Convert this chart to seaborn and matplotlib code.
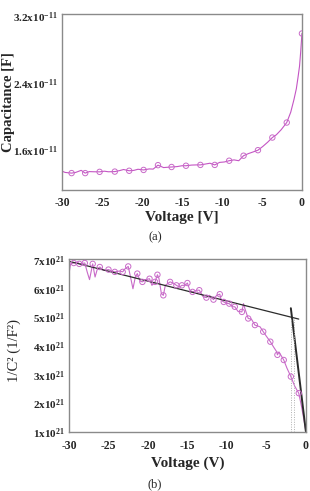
import numpy as np
import pandas as pd
import matplotlib
matplotlib.use("Agg")
import matplotlib.pyplot as plt
import seaborn as sns

# ==========================================
# DATA
# ==========================================

# (a) C-V curve, capacitance in units of 1e-11 F
cv_volt = [-30.0, -29.6, -28.8, -28.3, -27.6, -27.1, -26.6, -26.0, -25.3, -24.7,
           -24.2, -23.4, -22.8, -22.3, -21.6, -21.0, -20.5, -19.8, -19.1, -18.6,
           -18.0, -17.3, -16.8, -16.3, -15.6, -15.0, -14.5, -13.8, -13.2, -12.7,
           -12.1, -11.5, -10.9, -10.3, -9.7, -9.1, -8.5, -7.9, -7.3, -6.7,
           -6.1, -5.5, -4.9, -4.3, -3.7, -3.2, -2.6, -1.9, -1.4, -1.0,
           -0.7, -0.5, -0.3, -0.15, 0.0]
cv_cap = [1.345, 1.330, 1.322, 1.330, 1.355, 1.322, 1.340, 1.338, 1.337, 1.345,
          1.338, 1.340, 1.352, 1.365, 1.350, 1.355, 1.368, 1.360, 1.372, 1.370,
          1.417, 1.388, 1.392, 1.395, 1.400, 1.410, 1.410, 1.418, 1.420, 1.420,
          1.430, 1.440, 1.420, 1.450, 1.455, 1.470, 1.480, 1.470, 1.530, 1.555,
          1.575, 1.596, 1.640, 1.690, 1.747, 1.780, 1.840, 1.926, 2.050, 2.200,
          2.330, 2.460, 2.600, 2.780, 2.990]
cv_mark_volt = [-28.8, -27.1, -25.3, -23.4, -21.6, -19.8, -18.0, -16.3, -14.5,
                -12.7, -10.9, -9.1, -7.3, -5.5, -3.7, -1.9, 0.0]
cv_mark_cap = [1.322, 1.322, 1.337, 1.340, 1.350, 1.360, 1.417, 1.395, 1.410,
               1.420, 1.420, 1.470, 1.530, 1.596, 1.747, 1.926, 2.990]

# (b) Mott-Schottky plot, 1/C^2 in units of 1e21 F^-2
ms_volt = [-30.0, -29.8, -29.4, -28.9, -28.7, -28.0, -27.7, -27.4, -27.0, -26.7,
           -26.4, -26.1, -25.6, -25.0, -24.6, -24.2, -23.6, -23.2, -22.9, -22.5,
           -22.3, -21.9, -21.6, -21.35, -21.0, -20.7, -20.3, -19.8, -19.5, -19.1,
           -18.8, -18.6, -18.3, -18.05, -17.8, -17.2, -16.8, -16.4, -16.0, -15.7,
           -15.3, -15.0, -14.7, -14.35, -13.8, -13.5, -13.0, -12.6, -12.2, -11.7,
           -11.3, -10.9, -10.7, -10.4, -10.0, -9.7, -9.3, -9.0, -8.6, -8.1,
           -7.9, -7.7, -7.3, -6.9, -6.45, -5.8, -5.4, -5.0, -4.5, -4.1,
           -3.7, -3.6, -3.4, -2.8, -2.4, -1.9, -1.4, -0.9, -0.55, -0.25, 0.0]
ms_inv = [6.54, 6.88, 6.91, 6.94, 6.88, 6.91, 6.60, 6.33, 6.88, 6.42,
          6.71, 6.77, 6.65, 6.68, 6.63, 6.60, 6.63, 6.60, 6.71, 6.79,
          6.54, 6.01, 6.42, 6.54, 6.28, 6.25, 6.33, 6.36, 6.13, 6.25,
          6.50, 6.36, 5.84, 5.78, 6.13, 6.25, 6.21, 6.13, 6.07, 6.13,
          6.13, 6.21, 5.96, 5.90, 5.96, 5.96, 5.73, 5.70, 5.78, 5.63,
          5.78, 5.82, 5.60, 5.55, 5.50, 5.49, 5.38, 5.38, 5.22, 5.20,
          5.49, 5.30, 4.97, 4.95, 4.74, 4.68, 4.51, 4.35, 4.16, 3.98,
          3.81, 3.70, 3.80, 3.52, 3.24, 2.94, 2.60, 2.36, 1.90, 1.44, 1.03]
ms_mark_volt = [-29.4, -28.7, -28.0, -27.0, -26.1, -25.0, -24.2, -23.2, -22.5,
                -21.35, -20.7, -19.8, -19.1, -18.8, -18.05, -17.2, -16.4, -15.7,
                -15.0, -14.35, -13.5, -12.6, -11.7, -10.9, -10.4, -9.7, -9.0,
                -8.1, -7.3, -6.45, -5.4, -4.5, -3.6, -2.8, -1.9, -0.9]
ms_mark_inv = [6.91, 6.88, 6.91, 6.88, 6.77, 6.68, 6.60, 6.60, 6.79,
               6.54, 6.25, 6.36, 6.25, 6.50, 5.78, 6.25, 6.13, 6.13,
               6.21, 5.90, 5.96, 5.70, 5.63, 5.82, 5.55, 5.49, 5.38,
               5.20, 4.97, 4.74, 4.51, 4.16, 3.70, 3.52, 2.94, 2.36]

# linear fits drawn on (b)
fit_flat_volt = [-30.0, -0.9]
fit_flat_inv = [6.97, 4.95]
fit_steep_volt = [-1.9, 0.0]
fit_steep_inv = [5.33, 1.03]
guide_volt = [-1.85, -1.55]
guide_top = [4.97, 4.95]

cap_ticks = [1.6, 2.4, 3.2]
cap_ticklabels = ["1.6x10$^{-11}$", "2.4x10$^{-11}$", "3.2x10$^{-11}$"]
inv_ticks = [1, 2, 3, 4, 5, 6, 7]
inv_ticklabels = ["%dx10$^{21}$" % t for t in inv_ticks]
volt_ticks = [-30, -25, -20, -15, -10, -5, 0]

# ==========================================
# STYLE
# ==========================================
sns.set_style("white")
plt.rcParams["font.family"] = ["Liberation Serif", "DejaVu Serif"]
plt.rcParams["mathtext.fontset"] = "custom"
plt.rcParams["mathtext.rm"] = "Liberation Serif:bold"
plt.rcParams["mathtext.it"] = "Liberation Serif:bold"
plt.rcParams["mathtext.bf"] = "Liberation Serif:bold"

LINE_C = "#c455c4"
MARK_C = "#c86ac8"
FIT_C = "#2b2b2b"
SPINE_C = "#8a8a8a"

fig = plt.figure(figsize=(3.1, 4.91), dpi=100)
ax1 = fig.add_axes([0.2, 0.613, 0.774, 0.358])
ax2 = fig.add_axes([0.2226, 0.120, 0.764, 0.3525])


def style_axes(ax, xpad):
    for s in ax.spines.values():
        s.set_color(SPINE_C)
        s.set_linewidth(1.0)
    ax.tick_params(axis="y", length=0, pad=3, labelsize=8)
    ax.tick_params(axis="x", length=0, pad=xpad, labelsize=8.5)
    for lab in ax.get_xticklabels() + ax.get_yticklabels():
        lab.set_fontweight("bold")


# ---- (a) capacitance vs voltage ----
df_cv = pd.DataFrame({"V": cv_volt, "C": cv_cap})
sns.lineplot(data=df_cv, x="V", y="C", ax=ax1, color=LINE_C, lw=0.8,
             sort=False, estimator=None)
ax1.scatter(cv_mark_volt, cv_mark_cap, s=15, facecolors="none",
            edgecolors=MARK_C, linewidths=0.7, zorder=3)
ax1.set_xlim(-30, 0)
ax1.set_ylim(1.12, 3.22)
ax1.set_xticks(volt_ticks)
ax1.set_xticklabels([str(t) for t in volt_ticks])
ax1.set_yticks(cap_ticks)
ax1.set_yticklabels(cap_ticklabels)
ax1.set_xlabel("Voltage [V]", fontsize=11, fontweight="bold")
ax1.set_ylabel("Capacitance [F]", fontsize=10.5, fontweight="bold")
ax1.xaxis.set_label_coords(0.5, -0.12)
ax1.yaxis.set_label_coords(-0.195, 0.5)
style_axes(ax1, 5)

# ---- (b) 1/C^2 vs voltage ----
df_ms = pd.DataFrame({"V": ms_volt, "invC2": ms_inv})
sns.lineplot(data=df_ms, x="V", y="invC2", ax=ax2, color=MARK_C, lw=0.8,
             sort=False, estimator=None)
ax2.scatter(ms_mark_volt, ms_mark_inv, s=15, facecolors="none",
            edgecolors=MARK_C, linewidths=0.7, zorder=3)
sns.lineplot(x=fit_flat_volt, y=fit_flat_inv, ax=ax2, color=FIT_C, lw=0.9)
sns.lineplot(x=fit_steep_volt, y=fit_steep_inv, ax=ax2, color=FIT_C, lw=1.4)
for gv, gt in zip(guide_volt, guide_top):
    ax2.vlines(gv, 1.0, gt, colors="#b0b0b0", linestyles=(0, (1, 1.5)), lw=0.7)
ax2.set_xlim(-30, 0)
ax2.set_ylim(1.0, 7.05)
ax2.set_xticks(volt_ticks)
ax2.set_xticklabels([str(t) for t in volt_ticks])
ax2.set_yticks(inv_ticks)
ax2.set_yticklabels(inv_ticklabels)
ax2.set_xlabel("Voltage (V)", fontsize=11, fontweight="bold")
ax2.set_ylabel("1/C² (1/F²)", fontsize=10.5)
ax2.xaxis.set_label_coords(0.5, -0.139)
ax2.yaxis.set_label_coords(-0.203, 0.47)
style_axes(ax2, 6)

fig.text(0.5, 1 - 237 / 491, "(a)", ha="center", va="center", fontsize=9)
fig.text(0.5, 1 - 484 / 491, "(b)", ha="center", va="center", fontsize=9)

fig.savefig("out.png", dpi=100)
